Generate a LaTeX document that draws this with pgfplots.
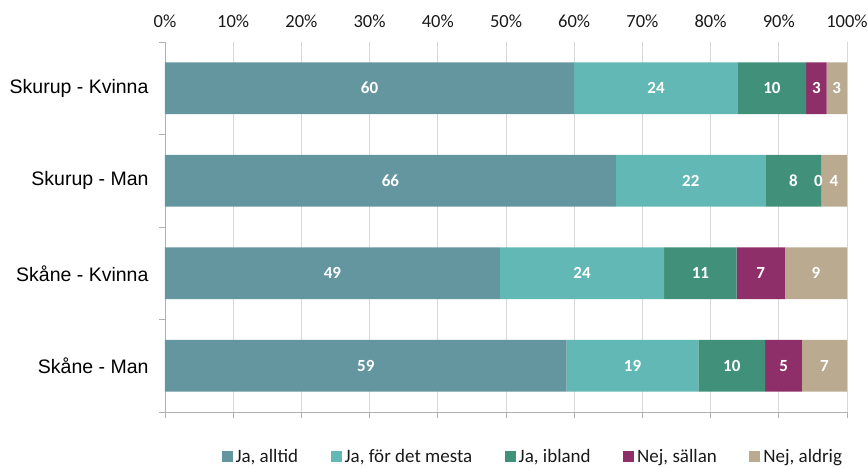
\documentclass[border=0pt]{standalone}
\usepackage{pgfplots}
\pgfplotsset{compat=1.18}
\usepackage{fontspec}
\setmainfont{Carlito}
\newfontfamily\arialf{Liberation Sans}
\definecolor{c1}{HTML}{63969F}
\definecolor{c2}{HTML}{62B8B5}
\definecolor{c3}{HTML}{419079}
\definecolor{c4}{HTML}{8E2F69}
\definecolor{c5}{HTML}{BAAA90}
\definecolor{gridc}{HTML}{D9D9D9}
\definecolor{axc}{HTML}{B0B0B0}
\definecolor{txt}{HTML}{1A1A1A}
\pgfplotsset{sq/.style={legend image code/.code={\fill[##1] (0pt,-5.5pt) rectangle (11pt,5.5pt);}}}
\begin{document}
\begin{tikzpicture}
\useasboundingbox (-165pt,-56pt) rectangle (703pt,412pt);
\begin{axis}[
  at={(0pt,0pt)}, anchor=south west,
  scale only axis, width=682pt, height=370pt,
  xbar stacked, bar width=0.56,
  xmin=0, xmax=100, ymin=-0.5, ymax=3.5, y dir=reverse,
  axis line style={draw=none},
  xtick={0,10,20,30,40,50,60,70,80,90,100},
  xticklabels={0\%,10\%,20\%,30\%,40\%,50\%,60\%,70\%,80\%,90\%,100\%},
  xtick pos=lower, xticklabel pos=upper,
  xticklabel style={font=\fontsize{18.5}{21}\selectfont, text=txt, yshift=5pt},
  ytick={-0.5,0.5,1.5,2.5,3.5}, yticklabels={},
  ytick pos=left,
  extra y ticks={0,1,2,3},
  extra y tick labels={Skurup - Kvinna,Skurup - Man,Skåne - Kvinna,Skåne - Man},
  extra y tick style={major tick length=0pt, yticklabel style={font=\arialf\fontsize{19.5}{22}\selectfont, text=black, xshift=-13pt}},
  tick align=outside, major tick length=5.5pt,
  tick style={axc, line width=0.9pt},
  xmajorgrids=true, grid style={gridc, line width=0.9pt},
  legend columns=5,
  legend style={draw=none, fill=none, at={(0.54,-0.1216)}, anchor=center,
    font=\fontsize{19}{22}\selectfont, text=txt,
    nodes={inner xsep=3pt},
    /tikz/every even column/.append style={column sep=29.5pt},
    cells={anchor=west}},
]
\addplot[fill=c1, draw=none, sq] coordinates {(60,0) (66.1,1) (49.1,2) (58.9,3)};
\addplot[fill=c2, draw=none, sq] coordinates {(24,0) (22.0,1) (24.1,2) (19.3,3)};
\addplot[fill=c3, draw=none, sq] coordinates {(10,0) (8.1,1) (10.6,2) (9.8,3)};
\addplot[fill=c4, draw=none, sq] coordinates {(3,0) (0,1) (7.1,2) (5.4,3)};
\addplot[fill=c5, draw=none, sq] coordinates {(3,0) (3.8,1) (9.1,2) (6.6,3)};
\legend{{Ja, alltid},{Ja, för det mesta},{Ja, ibland},{Nej, sällan},{Nej, aldrig}}
\draw[axc, line width=0.9pt] (axis cs:0,-0.5) -- (axis cs:0,3.5) -- (axis cs:100,3.5);
\end{axis}
\begin{axis}[
  at={(0pt,0pt)}, anchor=south west,
  scale only axis, width=682pt, height=370pt,
  xmin=0, xmax=100, ymin=-0.5, ymax=3.5, y dir=reverse,
  hide axis,
]
\addplot[only marks, mark=*, mark size=0pt, mark options={draw=none, fill=none},
  nodes near coords, point meta=explicit symbolic,
  nodes near coords style={font=\bfseries\fontsize{17}{20}\selectfont, text=white, anchor=center, inner sep=0pt}]
  table[meta=l] {
x y l
30 0 60
72 0 24
89 0 10
95.5 0 3
98.5 0 3
33.05 1 66
77.1 1 22
92.15 1 8
95.8 1 0
98.1 1 4
24.55 2 49
61.15 2 24
78.5 2 11
87.35 2 7
95.45 2 9
29.45 3 59
68.55 3 19
83.1 3 10
90.7 3 5
96.7 3 7
};
\end{axis}
\end{tikzpicture}
\end{document}
